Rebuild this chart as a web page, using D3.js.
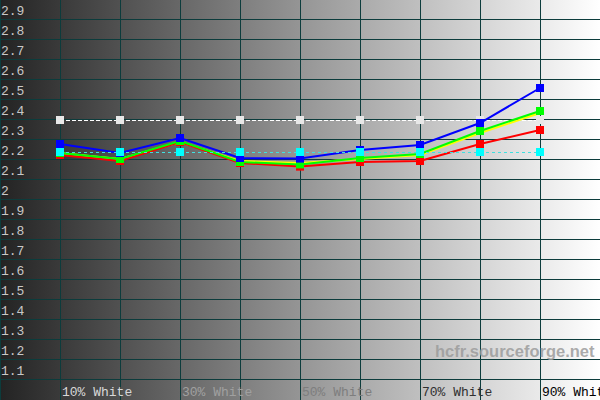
<!DOCTYPE html>
<html>
<head>
<meta charset="utf-8">
<script src="https://cdn.jsdelivr.net/npm/d3@7"></script>
<style>
  html, body { margin: 0; padding: 0; background: #fff; }
  svg { display: block; }
</style>
</head>
<body>
<svg id="chart" width="600" height="400"></svg>
<script>
// ---- data ----
const categories = ["10% White","20% White","30% White","40% White","50% White","60% White","70% White","80% White","90% White"];
const levels = [10, 20, 30, 40, 50, 60, 70, 80, 90];
const yTicks = [1.1,1.2,1.3,1.4,1.5,1.6,1.7,1.8,1.9,2,2.1,2.2,2.3,2.4,2.5,2.6,2.7,2.8,2.9];
const labeledLevels = [10, 30, 50, 70, 90];
const labelColors = ["#d8d8d8", "#a0a0a0", "#7e7e7e", "#303030", "#000000"];

const whiteRef = [2.40, 2.40, 2.40, 2.40, 2.40, 2.40, 2.40, 2.40, 2.40];
const cyanAvg  = [2.24, 2.24, 2.24, 2.24, 2.24, 2.24, 2.24, 2.24, 2.24];
const yellowY  = [2.235, 2.205, 2.29, 2.195, 2.185, 2.205, 2.225, 2.335, 2.435];
const redR     = [2.225, 2.195, 2.29, 2.185, 2.167, 2.19, 2.195, 2.28, 2.35];
const greenG   = [2.235, 2.205, 2.295, 2.19, 2.178, 2.21, 2.23, 2.345, 2.445];
const blueB    = [2.28, 2.235, 2.31, 2.21, 2.207, 2.25, 2.275, 2.385, 2.56];

// ---- layout ----
const W = 600, H = 400;
const svg = d3.select("#chart");
const x = d3.scaleLinear().domain([0, 100]).range([0, W]);
const y = d3.scaleLinear().domain([3.0, 1.0]).range([0, H]);

// background gradient
const defs = svg.append("defs");
const grad = defs.append("linearGradient").attr("id", "bg").attr("x1", "0%").attr("x2", "100%").attr("y1", "0%").attr("y2", "0%");
grad.append("stop").attr("offset", "0%").attr("stop-color", "#232323");
grad.append("stop").attr("offset", "50%").attr("stop-color", "#959595");
grad.append("stop").attr("offset", "100%").attr("stop-color", "#ffffff");
svg.append("rect").attr("width", W).attr("height", H).attr("fill", "url(#bg)");

// grid
const gridColor = "#0c3c3c";
const grid = svg.append("g").attr("shape-rendering", "crispEdges");
grid.selectAll("line.h").data(yTicks).join("line")
  .attr("x1", 0).attr("x2", W)
  .attr("y1", d => Math.round(y(d)) - 0.5).attr("y2", d => Math.round(y(d)) - 0.5)
  .attr("stroke", gridColor).attr("stroke-width", 1);
grid.selectAll("line.v").data([0].concat(levels)).join("line")
  .attr("y1", 0).attr("y2", H)
  .attr("x1", d => Math.round(x(d)) + 0.5).attr("x2", d => Math.round(x(d)) + 0.5)
  .attr("stroke", gridColor).attr("stroke-width", 1);

// y labels
svg.append("g").selectAll("text").data(yTicks).join("text")
  .attr("x", 1).attr("y", d => y(d) - 5)
  .attr("font-family", "Liberation Mono, monospace").attr("font-size", 13)
  .attr("fill", "#c8c8c8")
  .text(d => d3.format(".1~f")(d));

// x labels
svg.append("g").selectAll("text").data(labeledLevels).join("text")
  .attr("x", d => x(d) + 2).attr("y", 396)
  .attr("font-family", "Liberation Mono, monospace").attr("font-size", 13)
  .attr("fill", (d, i) => labelColors[i])
  .text(d => categories[levels.indexOf(d)]);

// watermark
svg.append("text").attr("x", 435).attr("y", 357)
  .attr("font-family", "Liberation Sans, Arial, sans-serif").attr("font-size", 16.5)
  .attr("font-weight", "bold")
  .attr("fill", "#9c9c9c").attr("fill-opacity", 0.85)
  .text("hcfr.sourceforge.net");

const line = d3.line().x((d, i) => x(levels[i])).y(d => y(d));
const sq = 8;

function series(vals, color, opts) {
  const g = svg.append("g");
  g.append("path").datum(vals).attr("d", line)
    .attr("fill", "none").attr("stroke", opts.lineColor || color)
    .attr("stroke-width", opts.width || 2)
    .attr("stroke-dasharray", opts.dash || null)
    .attr("shape-rendering", opts.crisp ? "crispEdges" : null);
  if (opts.markers !== false) {
    g.selectAll("rect").data(vals).join("rect")
      .attr("x", (d, i) => x(levels[i]) - sq / 2)
      .attr("y", d => y(d) - sq / 2)
      .attr("width", sq).attr("height", sq)
      .attr("fill", color);
  }
}

series(whiteRef, "#e8e8e8", { width: 1, dash: "4,2", lineColor: "#ffffff", crisp: true });
series(yellowY, "#ffff00", { width: 2, markers: false });
series(redR, "#ff0000", { width: 2 });
series(greenG, "#00ff00", { width: 2 });
series(blueB, "#0000ff", { width: 2 });
series(cyanAvg, "#00ffff", { width: 1, dash: "3,3", lineColor: "#40e0e0", crisp: true });
</script>
</body>
</html>
